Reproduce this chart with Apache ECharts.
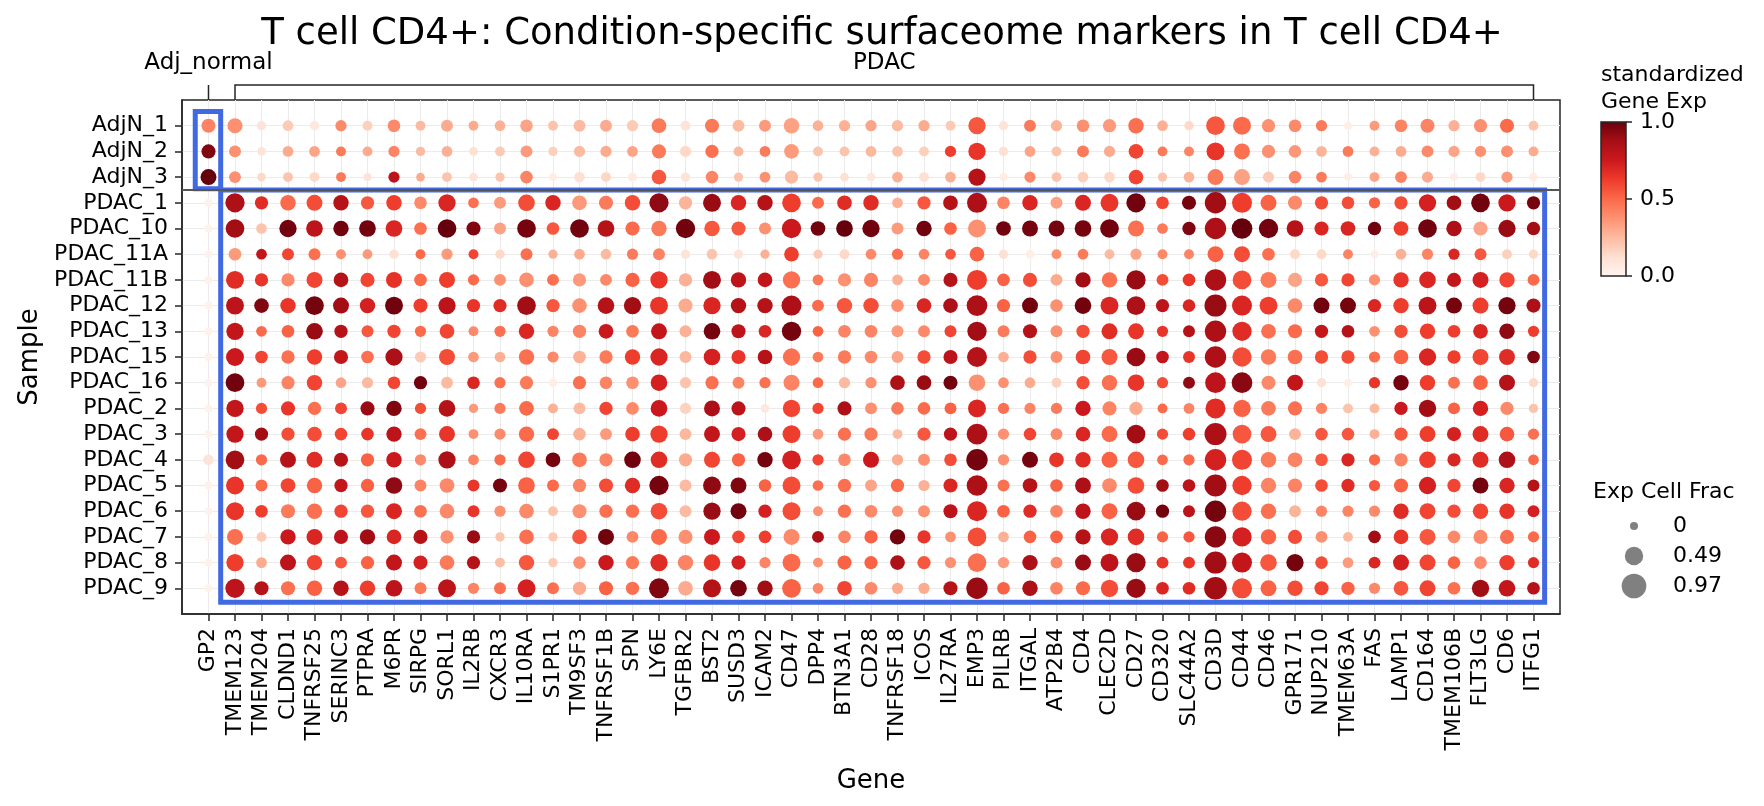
<!DOCTYPE html>
<html>
<head>
<meta charset="utf-8">
<script src="https://cdn.jsdelivr.net/npm/echarts@6/dist/echarts.min.js"></script>
<style>
  html, body { margin: 0; padding: 0; background: #fff; }
  #chart { width: 1764px; height: 806px; }
</style>
</head>
<body>
<div id="chart"></div>
<script>
// genes on x, samples on y
const genes = ['GP2', 'TMEM123', 'TMEM204', 'CLDND1', 'TNFRSF25', 'SERINC3', 'PTPRA', 'M6PR', 'SIRPG', 'SORL1', 'IL2RB',
  'CXCR3', 'IL10RA', 'S1PR1', 'TM9SF3', 'TNFRSF1B', 'SPN', 'LY6E', 'TGFBR2', 'BST2', 'SUSD3', 'ICAM2', 'CD47', 'DPP4',
  'BTN3A1', 'CD28', 'TNFRSF18', 'ICOS', 'IL27RA', 'EMP3', 'PILRB', 'ITGAL', 'ATP2B4', 'CD4', 'CLEC2D', 'CD27', 'CD320',
  'SLC44A2', 'CD3D', 'CD44', 'CD46', 'GPR171', 'NUP210', 'TMEM63A', 'FAS', 'LAMP1', 'CD164', 'TMEM106B', 'FLT3LG', 'CD6', 'ITFG1'];

const samples = ['AdjN_1', 'AdjN_2', 'AdjN_3', 'PDAC_1', 'PDAC_10', 'PDAC_11A', 'PDAC_11B', 'PDAC_12', 'PDAC_13',
  'PDAC_15', 'PDAC_16', 'PDAC_2', 'PDAC_3', 'PDAC_4', 'PDAC_5', 'PDAC_6', 'PDAC_7', 'PDAC_8', 'PDAC_9'];

// gene groups for the bracket on top (gene index from..to)
const groupNames = ['Adj_normal', 'PDAC'];
const groupFrom = [0, 1];
const groupTo = [0, 50];

// standardized gene expression, one row per sample
const expRows = [
  [0.42, 0.38, 0.10, 0.20, 0.08, 0.40, 0.18, 0.40, 0.25, 0.30, 0.30,  0.28, 0.32, 0.22, 0.25, 0.30, 0.20, 0.45, 0.10, 0.45, 0.25, 0.35, 0.33, 0.28,  0.28, 0.32, 0.25, 0.30, 0.20, 0.55, 0.10, 0.45, 0.27, 0.38, 0.35, 0.48, 0.28,  0.15, 0.55, 0.50, 0.38, 0.40, 0.45, 0.04, 0.35, 0.42, 0.42, 0.28, 0.38, 0.50, 0.22],
  [0.95, 0.38, 0.10, 0.30, 0.32, 0.45, 0.30, 0.42, 0.25, 0.28, 0.12,  0.20, 0.35, 0.18, 0.25, 0.30, 0.32, 0.45, 0.15, 0.48, 0.26, 0.45, 0.35, 0.22,  0.22, 0.26, 0.22, 0.18, 0.62, 0.65, 0.12, 0.32, 0.22, 0.45, 0.30, 0.60, 0.45,  0.42, 0.65, 0.48, 0.38, 0.36, 0.27, 0.45, 0.28, 0.30, 0.40, 0.32, 0.38, 0.38, 0.30],
  [1.00, 0.38, 0.15, 0.22, 0.15, 0.45, 0.10, 0.80, 0.30, 0.22, 0.10,  0.22, 0.42, 0.05, 0.12, 0.16, 0.06, 0.55, 0.10, 0.42, 0.22, 0.38, 0.25, 0.22,  0.12, 0.08, 0.28, 0.12, 0.28, 0.82, 0.05, 0.40, 0.22, 0.18, 0.15, 0.60, 0.22,  0.27, 0.45, 0.33, 0.20, 0.42, 0.45, 0.04, 0.32, 0.42, 0.30, 0.04, 0.15, 0.35, 0.05],
  [0.02, 0.85, 0.68, 0.50, 0.58, 0.82, 0.55, 0.62, 0.40, 0.70, 0.48,  0.35, 0.58, 0.70, 0.35, 0.45, 0.58, 0.92, 0.27, 0.90, 0.70, 0.82, 0.62, 0.50,  0.68, 0.68, 0.28, 0.55, 0.82, 0.85, 0.42, 0.70, 0.33, 0.70, 0.65, 0.98, 0.60,  0.97, 0.88, 0.62, 0.52, 0.40, 0.58, 0.58, 0.52, 0.58, 0.72, 0.88, 0.98, 0.75, 0.97],
  [0.02, 0.88, 0.22, 0.98, 0.80, 0.98, 0.98, 0.70, 0.48, 1.00, 0.95,  0.33, 0.97, 0.55, 0.98, 0.82, 0.50, 0.45, 0.98, 0.55, 0.55, 0.38, 0.75, 0.98,  1.00, 0.98, 0.35, 0.98, 0.52, 0.38, 0.98, 0.97, 0.97, 0.97, 0.98, 0.48, 0.45,  0.95, 0.85, 1.00, 0.98, 0.82, 0.70, 0.70, 0.98, 0.62, 0.98, 0.85, 0.32, 0.90, 0.88],
  [0.02, 0.35, 0.78, 0.60, 0.48, 0.38, 0.35, 0.12, 0.50, 0.35, 0.60,  0.15, 0.48, 0.28, 0.30, 0.25, 0.45, 0.42, 0.10, 0.22, 0.10, 0.28, 0.62, 0.20,  0.15, 0.40, 0.48, 0.42, 0.55, 0.52, 0.12, 0.04, 0.38, 0.45, 0.25, 0.32, 0.40,  0.42, 0.52, 0.58, 0.48, 0.15, 0.15, 0.42, 0.04, 0.28, 0.42, 0.70, 0.55, 0.18, 0.15],
  [0.02, 0.68, 0.65, 0.40, 0.60, 0.82, 0.60, 0.66, 0.50, 0.62, 0.50,  0.38, 0.38, 0.48, 0.35, 0.40, 0.52, 0.65, 0.28, 0.88, 0.80, 0.78, 0.48, 0.45,  0.38, 0.42, 0.28, 0.40, 0.82, 0.62, 0.52, 0.58, 0.30, 0.88, 0.48, 0.90, 0.58,  0.65, 0.85, 0.58, 0.45, 0.32, 0.55, 0.60, 0.38, 0.65, 0.70, 0.78, 0.72, 0.60, 0.50],
  [0.02, 0.80, 0.95, 0.65, 0.97, 0.88, 0.72, 0.98, 0.62, 0.80, 0.65,  0.68, 0.88, 0.55, 0.38, 0.82, 0.88, 0.65, 0.30, 0.70, 0.82, 0.82, 0.85, 0.50,  0.55, 0.58, 0.38, 0.70, 0.85, 0.85, 0.52, 0.98, 0.38, 0.98, 0.70, 0.85, 0.80,  0.70, 0.90, 0.70, 0.62, 0.40, 0.98, 0.97, 0.70, 0.62, 0.80, 0.97, 0.62, 0.97, 0.85],
  [0.02, 0.78, 0.50, 0.52, 0.90, 0.82, 0.55, 0.60, 0.50, 0.60, 0.40,  0.48, 0.70, 0.42, 0.42, 0.75, 0.45, 0.78, 0.28, 0.97, 0.80, 0.70, 0.97, 0.52,  0.42, 0.42, 0.35, 0.40, 0.60, 0.88, 0.45, 0.82, 0.38, 0.58, 0.68, 0.65, 0.65,  0.82, 0.85, 0.68, 0.48, 0.50, 0.78, 0.82, 0.38, 0.58, 0.62, 0.62, 0.70, 0.92, 0.62],
  [0.02, 0.75, 0.60, 0.48, 0.62, 0.78, 0.48, 0.85, 0.20, 0.58, 0.35,  0.28, 0.48, 0.40, 0.28, 0.45, 0.62, 0.70, 0.26, 0.72, 0.65, 0.82, 0.48, 0.45,  0.45, 0.40, 0.32, 0.58, 0.80, 0.82, 0.28, 0.58, 0.38, 0.60, 0.55, 0.90, 0.78,  0.65, 0.85, 0.58, 0.45, 0.48, 0.58, 0.58, 0.48, 0.52, 0.70, 0.62, 0.60, 0.68, 0.95],
  [0.02, 0.98, 0.35, 0.42, 0.60, 0.32, 0.25, 0.60, 0.98, 0.25, 0.70,  0.48, 0.45, 0.04, 0.48, 0.42, 0.38, 0.72, 0.22, 0.48, 0.42, 0.48, 0.42, 0.50,  0.25, 0.38, 0.85, 0.90, 0.98, 0.38, 0.38, 0.30, 0.18, 0.58, 0.48, 0.65, 0.58,  0.92, 0.80, 0.93, 0.40, 0.78, 0.12, 0.04, 0.65, 0.97, 0.62, 0.48, 0.52, 0.82, 0.15],
  [0.02, 0.78, 0.58, 0.65, 0.48, 0.60, 0.90, 0.95, 0.58, 0.82, 0.35,  0.45, 0.50, 0.28, 0.25, 0.60, 0.40, 0.75, 0.17, 0.85, 0.80, 0.08, 0.60, 0.60,  0.85, 0.38, 0.45, 0.50, 0.52, 0.70, 0.48, 0.42, 0.45, 0.75, 0.42, 0.30, 0.50,  0.42, 0.68, 0.52, 0.45, 0.48, 0.42, 0.22, 0.25, 0.75, 0.88, 0.52, 0.72, 0.40, 0.22],
  [0.02, 0.78, 0.88, 0.58, 0.58, 0.60, 0.65, 0.80, 0.48, 0.65, 0.38,  0.40, 0.50, 0.60, 0.28, 0.35, 0.62, 0.62, 0.26, 0.78, 0.72, 0.85, 0.62, 0.35,  0.48, 0.45, 0.25, 0.55, 0.80, 0.85, 0.38, 0.60, 0.40, 0.70, 0.50, 0.88, 0.58,  0.62, 0.85, 0.55, 0.55, 0.27, 0.55, 0.55, 0.28, 0.55, 0.62, 0.72, 0.68, 0.55, 0.48],
  [0.10, 0.88, 0.50, 0.82, 0.68, 0.82, 0.52, 0.75, 0.40, 0.85, 0.42,  0.50, 0.60, 0.97, 0.45, 0.42, 0.98, 0.68, 0.30, 0.60, 0.52, 0.97, 0.72, 0.60,  0.40, 0.75, 0.30, 0.38, 0.58, 0.97, 0.38, 0.97, 0.65, 0.68, 0.52, 0.55, 0.50,  0.50, 0.72, 0.60, 0.45, 0.42, 0.55, 0.70, 0.50, 0.42, 0.62, 0.70, 0.68, 0.85, 0.50],
  [0.02, 0.65, 0.50, 0.60, 0.52, 0.78, 0.52, 0.92, 0.42, 0.40, 0.65,  0.97, 0.52, 0.50, 0.42, 0.58, 0.68, 0.97, 0.25, 0.92, 0.95, 0.52, 0.58, 0.48,  0.48, 0.32, 0.50, 0.28, 0.70, 0.85, 0.48, 0.82, 0.52, 0.85, 0.40, 0.58, 0.88,  0.80, 0.88, 0.62, 0.42, 0.42, 0.58, 0.68, 0.55, 0.52, 0.72, 0.60, 0.97, 0.70, 0.82],
  [0.02, 0.65, 0.62, 0.45, 0.48, 0.60, 0.55, 0.70, 0.48, 0.40, 0.65,  0.38, 0.40, 0.22, 0.38, 0.48, 0.48, 0.58, 0.25, 0.90, 0.98, 0.72, 0.58, 0.38,  0.48, 0.40, 0.38, 0.38, 0.80, 0.70, 0.52, 0.68, 0.42, 0.80, 0.52, 0.90, 0.98,  0.80, 0.97, 0.58, 0.48, 0.27, 0.42, 0.42, 0.40, 0.68, 0.60, 0.58, 0.60, 0.65, 0.72],
  [0.02, 0.48, 0.20, 0.75, 0.70, 0.80, 0.88, 0.70, 0.82, 0.38, 0.90,  0.22, 0.48, 0.20, 0.55, 0.98, 0.40, 0.50, 0.38, 0.75, 0.60, 0.62, 0.40, 0.85,  0.42, 0.52, 0.98, 0.65, 0.38, 0.58, 0.28, 0.52, 0.52, 0.82, 0.70, 0.68, 0.52,  0.55, 0.93, 0.72, 0.52, 0.58, 0.38, 0.25, 0.88, 0.65, 0.55, 0.40, 0.40, 0.48, 0.50],
  [0.02, 0.62, 0.30, 0.80, 0.60, 0.55, 0.52, 0.78, 0.72, 0.45, 0.82,  0.24, 0.55, 0.20, 0.38, 0.75, 0.45, 0.68, 0.42, 0.65, 0.72, 0.42, 0.50, 0.38,  0.52, 0.52, 0.85, 0.55, 0.38, 0.48, 0.35, 0.85, 0.40, 0.90, 0.80, 0.90, 0.65,  0.65, 0.88, 0.78, 0.55, 0.97, 0.58, 0.35, 0.70, 0.72, 0.60, 0.52, 0.40, 0.62, 0.68],
  [0.02, 0.80, 0.82, 0.48, 0.52, 0.82, 0.62, 0.80, 0.45, 0.80, 0.42,  0.48, 0.72, 0.48, 0.30, 0.52, 0.48, 0.95, 0.30, 0.82, 0.97, 0.88, 0.52, 0.40,  0.60, 0.40, 0.30, 0.30, 0.82, 0.90, 0.52, 0.85, 0.42, 0.50, 0.58, 0.90, 0.70,  0.68, 0.88, 0.58, 0.52, 0.58, 0.60, 0.52, 0.40, 0.55, 0.60, 0.48, 0.88, 0.78, 0.82]
];

// fraction of cells expressing, one row per sample
const fracRows = [
  [0.24, 0.29, 0.04, 0.09, 0.04, 0.11, 0.06, 0.17, 0.06, 0.14, 0.06,  0.09, 0.17, 0.06, 0.14, 0.14, 0.11, 0.27, 0.06, 0.24, 0.14, 0.14, 0.31, 0.09,  0.11, 0.11, 0.11, 0.11, 0.06, 0.42, 0.04, 0.14, 0.11, 0.17, 0.20, 0.31, 0.09,  0.04, 0.51, 0.46, 0.20, 0.17, 0.11, 0.00, 0.06, 0.17, 0.24, 0.11, 0.20, 0.24, 0.06],
  [0.24, 0.14, 0.02, 0.09, 0.09, 0.06, 0.06, 0.11, 0.04, 0.09, 0.02,  0.06, 0.14, 0.04, 0.11, 0.11, 0.09, 0.24, 0.11, 0.20, 0.06, 0.09, 0.27, 0.06,  0.06, 0.09, 0.09, 0.06, 0.11, 0.42, 0.04, 0.09, 0.06, 0.14, 0.11, 0.27, 0.06,  0.06, 0.46, 0.34, 0.20, 0.17, 0.09, 0.09, 0.06, 0.09, 0.14, 0.11, 0.11, 0.14, 0.06],
  [0.34, 0.14, 0.02, 0.06, 0.06, 0.06, 0.00, 0.11, 0.02, 0.06, 0.02,  0.04, 0.17, 0.00, 0.09, 0.06, 0.04, 0.27, 0.04, 0.17, 0.04, 0.09, 0.20, 0.04,  0.02, 0.02, 0.09, 0.06, 0.09, 0.42, 0.00, 0.11, 0.06, 0.09, 0.09, 0.27, 0.04,  0.09, 0.34, 0.34, 0.11, 0.17, 0.09, 0.00, 0.06, 0.14, 0.11, 0.00, 0.06, 0.11, 0.02],
  [0.00, 0.55, 0.20, 0.31, 0.34, 0.31, 0.20, 0.31, 0.17, 0.42, 0.09,  0.14, 0.38, 0.31, 0.27, 0.24, 0.31, 0.55, 0.20, 0.46, 0.31, 0.31, 0.51, 0.14,  0.27, 0.31, 0.09, 0.20, 0.27, 0.60, 0.17, 0.31, 0.14, 0.34, 0.46, 0.55, 0.17,  0.24, 0.70, 0.60, 0.34, 0.24, 0.20, 0.17, 0.11, 0.20, 0.42, 0.27, 0.51, 0.42, 0.20],
  [0.00, 0.51, 0.09, 0.42, 0.38, 0.31, 0.38, 0.38, 0.17, 0.51, 0.24,  0.14, 0.51, 0.17, 0.51, 0.38, 0.24, 0.31, 0.55, 0.31, 0.24, 0.14, 0.55, 0.27,  0.38, 0.42, 0.14, 0.31, 0.17, 0.46, 0.27, 0.34, 0.34, 0.38, 0.51, 0.34, 0.09,  0.20, 0.70, 0.65, 0.55, 0.38, 0.24, 0.27, 0.20, 0.27, 0.51, 0.31, 0.24, 0.42, 0.20],
  [0.00, 0.17, 0.09, 0.14, 0.14, 0.06, 0.06, 0.04, 0.06, 0.11, 0.06,  0.04, 0.14, 0.04, 0.09, 0.09, 0.11, 0.14, 0.04, 0.09, 0.04, 0.04, 0.27, 0.04,  0.06, 0.09, 0.11, 0.09, 0.09, 0.27, 0.04, 0.02, 0.06, 0.09, 0.06, 0.11, 0.06,  0.06, 0.34, 0.34, 0.17, 0.06, 0.06, 0.06, 0.00, 0.09, 0.11, 0.11, 0.14, 0.06, 0.04],
  [0.00, 0.46, 0.20, 0.20, 0.34, 0.27, 0.24, 0.34, 0.17, 0.34, 0.11,  0.14, 0.27, 0.14, 0.20, 0.14, 0.24, 0.42, 0.20, 0.46, 0.31, 0.27, 0.42, 0.09,  0.20, 0.24, 0.09, 0.14, 0.24, 0.60, 0.17, 0.24, 0.14, 0.31, 0.31, 0.55, 0.14,  0.17, 0.70, 0.51, 0.34, 0.24, 0.20, 0.20, 0.11, 0.31, 0.38, 0.24, 0.34, 0.31, 0.14],
  [0.00, 0.46, 0.27, 0.31, 0.51, 0.34, 0.31, 0.46, 0.24, 0.42, 0.20,  0.20, 0.51, 0.20, 0.27, 0.38, 0.42, 0.46, 0.24, 0.42, 0.31, 0.31, 0.60, 0.14,  0.31, 0.31, 0.17, 0.27, 0.27, 0.65, 0.20, 0.34, 0.17, 0.38, 0.46, 0.51, 0.20,  0.17, 0.75, 0.60, 0.46, 0.27, 0.34, 0.34, 0.20, 0.31, 0.46, 0.34, 0.34, 0.42, 0.24],
  [0.00, 0.42, 0.09, 0.17, 0.38, 0.20, 0.14, 0.20, 0.11, 0.27, 0.06,  0.11, 0.31, 0.11, 0.20, 0.27, 0.17, 0.34, 0.14, 0.38, 0.24, 0.17, 0.55, 0.09,  0.17, 0.17, 0.14, 0.14, 0.14, 0.55, 0.14, 0.24, 0.14, 0.20, 0.34, 0.34, 0.11,  0.14, 0.70, 0.55, 0.27, 0.24, 0.20, 0.17, 0.09, 0.20, 0.31, 0.17, 0.27, 0.31, 0.11],
  [0.00, 0.46, 0.17, 0.20, 0.31, 0.24, 0.17, 0.42, 0.11, 0.34, 0.09,  0.09, 0.31, 0.11, 0.17, 0.20, 0.31, 0.42, 0.14, 0.38, 0.24, 0.27, 0.42, 0.09,  0.20, 0.17, 0.14, 0.20, 0.24, 0.60, 0.09, 0.20, 0.14, 0.27, 0.34, 0.51, 0.17,  0.14, 0.70, 0.55, 0.31, 0.27, 0.20, 0.20, 0.11, 0.27, 0.42, 0.20, 0.34, 0.34, 0.17],
  [0.00, 0.51, 0.06, 0.20, 0.31, 0.09, 0.11, 0.17, 0.20, 0.14, 0.17,  0.11, 0.20, 0.02, 0.20, 0.17, 0.17, 0.38, 0.11, 0.20, 0.14, 0.11, 0.34, 0.09,  0.11, 0.11, 0.27, 0.27, 0.24, 0.38, 0.09, 0.09, 0.06, 0.20, 0.31, 0.38, 0.11,  0.14, 0.65, 0.65, 0.24, 0.34, 0.04, 0.00, 0.11, 0.31, 0.31, 0.14, 0.27, 0.34, 0.04],
  [0.00, 0.42, 0.11, 0.24, 0.20, 0.14, 0.24, 0.31, 0.11, 0.38, 0.04,  0.11, 0.27, 0.06, 0.14, 0.20, 0.17, 0.38, 0.11, 0.34, 0.24, 0.02, 0.42, 0.11,  0.24, 0.14, 0.17, 0.17, 0.14, 0.46, 0.11, 0.11, 0.11, 0.31, 0.24, 0.20, 0.06,  0.09, 0.60, 0.42, 0.27, 0.24, 0.11, 0.06, 0.06, 0.20, 0.42, 0.14, 0.31, 0.20, 0.04],
  [0.00, 0.42, 0.20, 0.20, 0.27, 0.17, 0.17, 0.31, 0.14, 0.34, 0.06,  0.11, 0.31, 0.14, 0.17, 0.14, 0.27, 0.42, 0.14, 0.34, 0.24, 0.27, 0.46, 0.09,  0.20, 0.20, 0.06, 0.20, 0.20, 0.65, 0.11, 0.17, 0.14, 0.27, 0.34, 0.51, 0.11,  0.17, 0.75, 0.51, 0.34, 0.14, 0.17, 0.17, 0.06, 0.20, 0.34, 0.24, 0.34, 0.27, 0.11],
  [0.09, 0.51, 0.11, 0.34, 0.34, 0.24, 0.20, 0.31, 0.11, 0.42, 0.09,  0.11, 0.38, 0.27, 0.27, 0.20, 0.38, 0.38, 0.20, 0.34, 0.20, 0.31, 0.51, 0.11,  0.17, 0.34, 0.11, 0.14, 0.17, 0.70, 0.11, 0.34, 0.27, 0.31, 0.34, 0.38, 0.09,  0.11, 0.70, 0.60, 0.31, 0.27, 0.17, 0.20, 0.11, 0.20, 0.38, 0.20, 0.34, 0.38, 0.09],
  [0.00, 0.46, 0.14, 0.27, 0.31, 0.20, 0.20, 0.38, 0.14, 0.27, 0.14,  0.24, 0.38, 0.14, 0.20, 0.24, 0.31, 0.55, 0.14, 0.46, 0.34, 0.17, 0.46, 0.09,  0.20, 0.14, 0.20, 0.11, 0.24, 0.65, 0.14, 0.27, 0.17, 0.34, 0.27, 0.38, 0.17,  0.17, 0.75, 0.55, 0.31, 0.24, 0.17, 0.20, 0.11, 0.24, 0.42, 0.20, 0.34, 0.31, 0.14],
  [0.00, 0.46, 0.17, 0.24, 0.31, 0.20, 0.20, 0.34, 0.17, 0.27, 0.14,  0.11, 0.27, 0.06, 0.24, 0.20, 0.20, 0.38, 0.14, 0.42, 0.34, 0.20, 0.46, 0.06,  0.20, 0.17, 0.11, 0.14, 0.24, 0.60, 0.17, 0.20, 0.17, 0.31, 0.34, 0.51, 0.20,  0.14, 0.70, 0.55, 0.31, 0.14, 0.11, 0.11, 0.11, 0.31, 0.34, 0.20, 0.31, 0.31, 0.14],
  [0.00, 0.34, 0.06, 0.31, 0.34, 0.24, 0.31, 0.27, 0.24, 0.20, 0.20,  0.04, 0.27, 0.04, 0.27, 0.34, 0.14, 0.34, 0.24, 0.34, 0.17, 0.17, 0.34, 0.14,  0.17, 0.20, 0.31, 0.20, 0.09, 0.51, 0.09, 0.17, 0.17, 0.31, 0.42, 0.38, 0.11,  0.11, 0.70, 0.55, 0.31, 0.24, 0.14, 0.06, 0.17, 0.27, 0.34, 0.17, 0.24, 0.24, 0.11],
  [0.00, 0.42, 0.09, 0.34, 0.31, 0.14, 0.20, 0.34, 0.24, 0.27, 0.20,  0.06, 0.31, 0.04, 0.17, 0.31, 0.20, 0.42, 0.31, 0.38, 0.24, 0.11, 0.46, 0.06,  0.24, 0.20, 0.27, 0.20, 0.11, 0.51, 0.11, 0.31, 0.14, 0.34, 0.46, 0.55, 0.14,  0.14, 0.75, 0.60, 0.38, 0.42, 0.17, 0.09, 0.14, 0.34, 0.34, 0.17, 0.17, 0.31, 0.11],
  [0.00, 0.55, 0.24, 0.24, 0.31, 0.31, 0.31, 0.38, 0.14, 0.46, 0.11,  0.14, 0.46, 0.14, 0.20, 0.24, 0.20, 0.60, 0.27, 0.46, 0.38, 0.31, 0.51, 0.09,  0.27, 0.17, 0.11, 0.11, 0.24, 0.70, 0.17, 0.31, 0.17, 0.24, 0.42, 0.55, 0.17,  0.17, 0.80, 0.60, 0.34, 0.31, 0.24, 0.20, 0.11, 0.27, 0.34, 0.17, 0.42, 0.38, 0.17]
];

const colorbarTicks = [0, 0.5, 1];
const sizeLegendFracs = [0, 0.49, 0.97];

const reds = ['#fff5f0', '#fee0d2', '#fcbba1', '#fc9272', '#fb6a4a', '#ef3b2c', '#cb181d', '#a50f15', '#67000d'];
const FONT = 'DejaVu Sans';

function dotSize(frac) {
    return Math.sqrt(64 + 561 * frac);
}

let points = [];
for (let r = 0; r < samples.length; r++) {
    for (let g = 0; g < genes.length; g++) {
        points.push([g, r, expRows[r][g], fracRows[r][g]]);
    }
}
const geneIdx = genes.map((d, i) => i);
const sampleIdx = samples.map((d, i) => i);

const blue = '#4169e1';
var myChart = echarts.init(document.getElementById('chart'));
myChart.setOption({
    animation: false,
    backgroundColor: '#fff',
    title: {
        text: 'T cell CD4+: Condition-specific surfaceome markers in T cell CD4+',
        left: 'center',
        top: 11,
        textStyle: {fontSize: 37, fontWeight: 'normal', color: '#000', fontFamily: FONT}
    },
    grid: {
        left: 182, top: 100, right: 204, bottom: 192,
        show: true, borderColor: '#262626', borderWidth: 1.5
    },
    xAxis: {
        type: 'value', min: -1, max: 51, interval: 1,
        name: 'Gene', nameLocation: 'middle', nameGap: 154,
        nameTextStyle: {fontSize: 26, color: '#000', fontFamily: FONT},
        axisLine: {show: true, onZero: false, lineStyle: {color: '#262626', width: 1.5}},
        axisTick: {show: true, customValues: geneIdx, length: 7, lineStyle: {color: '#262626', width: 1.5}},
        axisLabel: {
            customValues: geneIdx, rotate: 90, margin: 14, fontSize: 22, color: '#000', fontFamily: FONT,
            formatter: v => genes[v] || ''
        },
        splitLine: {show: true, lineStyle: {color: '#ebebeb', width: 1}}
    },
    yAxis: {
        type: 'value', min: -1, max: 19, interval: 1, inverse: true,
        name: 'Sample', nameLocation: 'middle', nameGap: 138,
        nameTextStyle: {fontSize: 26, color: '#000', fontFamily: FONT},
        axisLine: {show: true, onZero: false, lineStyle: {color: '#262626', width: 1.5}},
        axisTick: {show: true, customValues: sampleIdx, length: 7, lineStyle: {color: '#262626', width: 1.5}},
        axisLabel: {
            customValues: sampleIdx, margin: 14, fontSize: 22, color: '#000', fontFamily: FONT,
            formatter: v => samples[v] || ''
        },
        splitLine: {show: true, lineStyle: {color: '#ebebeb', width: 1}}
    },
    visualMap: {
        show: false, type: 'continuous', dimension: 2, min: 0, max: 1,
        seriesIndex: 0, inRange: {color: reds}
    },
    series: [{
        type: 'scatter',
        data: points,
        symbolSize: v => dotSize(v[3]),
        itemStyle: {opacity: 1},
        markArea: {
            silent: true,
            itemStyle: {color: 'rgba(0,0,0,0)', borderColor: blue, borderWidth: 5},
            data: [
                [{coord: [-0.5, -0.55]}, {coord: [0.46, 2.45]}],
                [{coord: [0.46, 2.5]}, {coord: [50.42, 18.54]}]
            ]
        },
        markLine: {
            silent: true, symbol: 'none', label: {show: false},
            lineStyle: {color: '#555', width: 2, type: 'solid'},
            data: [{yAxis: 2.5}]
        }
    }]
});

// brackets, colorbar and size legend
function px(x, y) {
    return myChart.convertToPixel({gridIndex: 0}, [x, y]);
}
let graphics = [];
const topY = px(0, -1)[1];
const brY = topY - 15;
for (let i = 0; i < groupNames.length; i++) {
    let x0 = px(groupFrom[i], 0)[0];
    let x1 = px(groupTo[i], 0)[0];
    let lineStyle = {stroke: '#262626', lineWidth: 1.5};
    if (groupFrom[i] === groupTo[i]) {
        graphics.push({type: 'line', shape: {x1: x0, y1: brY, x2: x0, y2: topY}, style: lineStyle});
    } else {
        graphics.push({type: 'polyline', shape: {points: [[x0, topY], [x0, brY], [x1, brY], [x1, topY]]}, style: lineStyle});
    }
    graphics.push({
        type: 'text', x: (x0 + x1) / 2, y: 63,
        style: {text: groupNames[i], font: '23px "' + FONT + '"', fill: '#000', align: 'center', verticalAlign: 'middle'}
    });
}

// colorbar
const cbX = 1601, cbY = 122, cbW = 25, cbH = 154;
graphics.push({
    type: 'text', x: cbX, y: 75,
    style: {text: 'standardized', font: '22px "' + FONT + '"', fill: '#000', align: 'left', verticalAlign: 'middle'}
});
graphics.push({
    type: 'text', x: cbX, y: 102,
    style: {text: 'Gene Exp', font: '22px "' + FONT + '"', fill: '#000', align: 'left', verticalAlign: 'middle'}
});
graphics.push({
    type: 'rect', shape: {x: cbX, y: cbY, width: cbW, height: cbH},
    style: {
        fill: new echarts.graphic.LinearGradient(0, 1, 0, 0, reds.map((c, i) => ({offset: i / (reds.length - 1), color: c}))),
        stroke: '#262626', lineWidth: 1.5
    }
});
colorbarTicks.forEach(t => {
    let y = cbY + cbH - t * cbH;
    graphics.push({type: 'line', shape: {x1: cbX + cbW, y1: y, x2: cbX + cbW + 6, y2: y}, style: {stroke: '#262626', lineWidth: 1.5}});
    graphics.push({
        type: 'text', x: cbX + cbW + 14, y: y,
        style: {text: t.toFixed(1), font: '22px "' + FONT + '"', fill: '#000', align: 'left', verticalAlign: 'middle'}
    });
});

// dot size legend
graphics.push({
    type: 'text', x: 1593, y: 492,
    style: {text: 'Exp Cell Frac', font: '22px "' + FONT + '"', fill: '#000', align: 'left', verticalAlign: 'middle'}
});
sizeLegendFracs.forEach((f, i) => {
    let y = 526 + i * 30;
    graphics.push({type: 'circle', shape: {cx: 1634, cy: y, r: dotSize(f) / 2}, style: {fill: '#808080'}});
    graphics.push({
        type: 'text', x: 1673, y: y,
        style: {text: String(f), font: '22px "' + FONT + '"', fill: '#000', align: 'left', verticalAlign: 'middle'}
    });
});

myChart.setOption({graphic: graphics});
</script>
</body>
</html>
